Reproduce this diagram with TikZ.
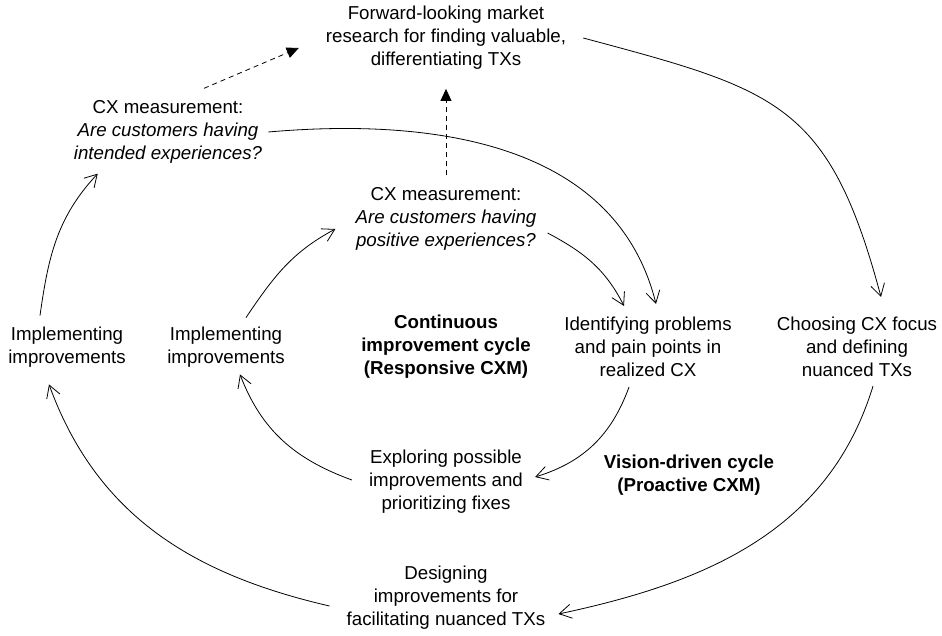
\documentclass[tikz,border=0pt]{standalone}
\usepackage{fontspec}
\setmainfont{Liberation Sans}
\usetikzlibrary{arrows.meta}
\newcommand\cxfont{\fontsize{18.7}{23}\selectfont}

\begin{document}
\begin{tikzpicture}[x=1pt, y=-1pt, font=\cxfont,
    txt/.style={align=center, inner sep=0pt},
    boldtxt/.style={txt, font=\cxfont\bfseries},
    flow/.style={line width=0.8pt, -{Straight Barb[length=12pt,width=14pt]}},
    dashflow/.style={line width=0.8pt, dash pattern=on 5pt off 4pt, -{Triangle[length=12pt,width=11pt]}}]
    \useasboundingbox (0,0) rectangle (942,636);

    % Steps
    \node[txt] (fwd) at (446,38) {Forward-looking market\\research for finding valuable,\\differentiating TXs};
    \node[txt] (cxo) at (168,132) {CX measurement:\\\textit{Are customers having}\\\textit{intended experiences?}};
    \node[txt] (cxi) at (446,219) {CX measurement:\\\textit{Are customers having}\\\textit{positive experiences?}};
    \node[txt] (impo) at (67,347) {Implementing\\improvements};
    \node[txt] (impi) at (226,347) {Implementing\\improvements};
    \node[txt] (ident) at (648,347) {Identifying problems\\and pain points in\\realized CX};
    \node[txt] (choose) at (857,347) {Choosing CX focus\\and defining\\nuanced TXs};
    \node[txt] (expl) at (446,482) {Exploring possible\\improvements and\\prioritizing fixes};
    \node[txt] (design) at (446,598) {Designing\\improvements for\\facilitating nuanced TXs};

    % Cycle names
    \node[boldtxt] (cont) at (446,347) {Continuous\\improvement cycle\\(Responsive CXM)};
    \node[boldtxt] (vis) at (689,475) {Vision-driven cycle\\(Proactive CXM)};

    % Vision-driven cycle
    \draw[flow] ([xshift=17pt]fwd.east) to[out=-15, in=105, looseness=1.3] ([xshift=24pt,yshift=20pt]choose.north);
    \draw[flow] ([xshift=16pt,yshift=-9pt]choose.south) to[out=-107, in=12] ([xshift=13pt,yshift=-16pt]design.east);
    \draw[flow] ([xshift=-17pt,yshift=-8pt]design.west) to[out=167, in=-70] ([xshift=-18pt,yshift=-17pt]impo.south);
    \draw[flow] ([xshift=-27pt,yshift=11pt]impo.north) to[out=82, in=-133] ([xshift=24pt,yshift=-10pt]cxo.south west);
    \draw[flow] ([xshift=6pt]cxo.east) to[out=5, in=104] ([xshift=8pt,yshift=13pt]ident.north);

    % Continuous improvement cycle
    \draw[flow] ([xshift=11pt,yshift=-14pt]cxi.east) to[out=-28, in=117] ([xshift=-24pt,yshift=11pt]ident.north);
    \draw[flow] ([xshift=-19pt,yshift=-10pt]ident.south) to[out=-110, in=17] ([xshift=12pt,yshift=5pt]expl.east);
    \draw[flow] ([xshift=-17pt,yshift=2pt]expl.west) to[out=160, in=-69] ([xshift=14pt,yshift=-7pt]impi.south);
    \draw[flow] ([xshift=20pt,yshift=9pt]impi.north) to[out=56, in=-152] ([xshift=-20pt,yshift=-10pt]cxi.west);

    % Measurement feeds the research
    \draw[dashflow] ([xshift=36pt,yshift=12pt]cxo.north) -- ([xshift=-27pt,yshift=-10pt]fwd.west);
    \draw[dashflow, shorten <=12pt, shorten >=19pt] (cxi.north) -- (fwd.south);
\end{tikzpicture}
\end{document}
